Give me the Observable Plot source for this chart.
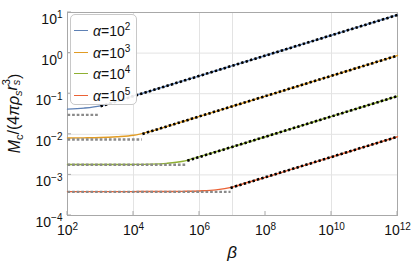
<!DOCTYPE html>
<html>
<head>
<meta charset="utf-8">
<script src="https://cdn.jsdelivr.net/npm/d3@7"></script>
<script src="https://cdn.jsdelivr.net/npm/@observablehq/plot@0.6"></script>
<style>
  html, body { margin: 0; padding: 0; background: #fff; }
  #wrap { position: relative; width: 415px; height: 267px; font-family: "Liberation Sans", Arial, sans-serif; }
  #legend { position: absolute; left: 70px; top: 14px; width: 67px; height: 91px; box-sizing: border-box;
    border: 1px solid #c8c8c8; border-radius: 5px; background: rgba(255,255,255,0.9); }
  .item { position: absolute; left: 0; height: 20px; width: 66px; }
  .item .sw { position: absolute; left: 3px; top: 9px; width: 14px; height: 0; border-top: 1.6px solid; }
  .item .lb { position: absolute; left: 22px; top: 1px; font-size: 14px; line-height: 18px; color: #111; white-space: nowrap; }
  .item .lb sup { font-size: 10px; vertical-align: 0; position: relative; top: -6px; }
</style>
</head>
<body>
<div id="wrap"><div id="chart"></div><div id="legend"></div></div>
<script>
// ---- data (log10 values) ----
const seriesNames = ["α=10^2", "α=10^3", "α=10^4", "α=10^5"];
const seriesColors = ["#5E81B5", "#E19C24", "#8FB032", "#EB6235"];
const betaExp = [2, 2.5, 3, 3.5, 4, 4.5, 5, 5.5, 6, 6.5, 7, 7.5, 8, 9, 10, 11, 12];
const logM_a2 = [-1.38, -1.355, -1.30, -1.18, -1.055, -0.935, -0.81, -0.685, -0.56, -0.435, -0.31, -0.185, -0.06, 0.19, 0.44, 0.69, 0.94];
const logM_a3 = [-2.09, -2.087, -2.08, -2.06, -2.025, -1.93, -1.81, -1.685, -1.56, -1.435, -1.31, -1.185, -1.06, -0.81, -0.56, -0.31, -0.06];
const logM_a4 = [-2.745, -2.745, -2.745, -2.744, -2.742, -2.735, -2.715, -2.665, -2.55, -2.43, -2.31, -2.185, -2.06, -1.81, -1.56, -1.31, -1.06];
const logM_a5 = [-3.412, -3.412, -3.412, -3.412, -3.411, -3.41, -3.41, -3.405, -3.395, -3.37, -3.30, -3.175, -3.06, -2.81, -2.56, -2.31, -2.06];
// large-beta asymptotes (black dotted): [logBeta, logM] endpoints
const asym_a2 = [[3.0, -1.31], [12, 0.94]];
const asym_a3 = [[4.27, -1.99], [12, -0.06]];
const asym_a4 = [[5.63, -2.65], [12, -1.06]];
const asym_a5 = [[6.94, -3.32], [12, -2.06]];
// small-beta plateaus (gray dotted): [logBeta start, logBeta end, logM]
const plat_a2 = [2, 2.94, -1.52];
const plat_a3 = [2, 4.25, -2.128];
const plat_a4 = [2, 5.58, -2.75];
const plat_a5 = [2, 6.94, -3.416];
// ticks
const xTickExp = [2, 4, 6, 8, 10, 12];
const yTickExp = [-4, -3, -2, -1, 0, 1];
const xGridExp = [4, 6, 7, 10];
const yGridExp = [-3, -2, -1, 0];

const p10 = e => Math.pow(10, e);
const curves = [logM_a2, logM_a3, logM_a4, logM_a5].map(arr => betaExp.map((e, i) => ({beta: p10(e), M: p10(arr[i])})));
const asyms = [asym_a2, asym_a3, asym_a4, asym_a5].map(a => a.map(([b, m]) => ({beta: p10(b), M: p10(m)})));
const plats = [plat_a2, plat_a3, plat_a4, plat_a5].map(([b0, b1, m]) => [{beta: p10(b0), M: p10(m)}, {beta: p10(b1), M: p10(m)}]);

const fmtExp = d => { const e = Math.round(Math.log10(d)); return "10^" + (e < 0 ? "\u2212" + (-e) : e); };

const marks = [
  Plot.gridX(xGridExp.map(p10), {stroke: "#e3e3e3", strokeOpacity: 1}),
  Plot.gridY(yGridExp.map(p10), {stroke: "#e3e3e3", strokeOpacity: 1}),
  Plot.frame({stroke: "#a8a8a8"}),
  Plot.axisX(xTickExp.map(p10), {tickSize: 0, tickPadding: 10, tickFormat: fmtExp, label: null, fontSize: 14, fill: "#111"}),
  Plot.axisY(yTickExp.map(p10), {tickSize: 0, tickPadding: 5, tickFormat: fmtExp, label: null, fontSize: 14, fill: "#111"})
];
curves.forEach((c, i) => marks.push(Plot.line(c, {x: "beta", y: "M", stroke: seriesColors[i], strokeWidth: 1.4, curve: "monotone-x"})));
plats.forEach(p => marks.push(Plot.line(p, {x: "beta", y: "M", stroke: "#8a8a8a", strokeWidth: 2.3, strokeDasharray: "2.7,1.9", strokeLinecap: "butt"})));
asyms.forEach(a => marks.push(Plot.line(a, {x: "beta", y: "M", stroke: "#000", strokeWidth: 2.6, strokeDasharray: "2.4,2.2", strokeLinecap: "butt"})));

const W = 415, H = 267, mL = 67, mR = 18, mT = 12, mB = 52;
const plot = Plot.plot({
  width: W, height: H, marginLeft: mL, marginRight: mR, marginTop: mT, marginBottom: mB,
  x: {type: "log", domain: [1e2, 1e12], label: null},
  y: {type: "log", domain: [1e-4, 1e1], label: null},
  style: {fontFamily: "'Liberation Sans', Arial, sans-serif", background: "transparent", fontSize: "14px"},
  marks
});
document.getElementById("chart").appendChild(plot);

const svg = d3.select(plot);
// superscript tick labels
svg.selectAll('g[aria-label="x-axis tick label"] text, g[aria-label="y-axis tick label"] text').each(function() {
  const t = d3.select(this);
  const s = t.text();
  const parts = s.split("^");
  t.text(null);
  t.append("tspan").text(parts[0]);
  t.append("tspan").attr("dy", "-0.55em").attr("font-size", "10px").text(parts[1]);
});
svg.selectAll('g[aria-label="y-axis tick label"] text').attr("dy", "0.5em");

// inside tick marks via the plot's scales
const sx = plot.scale("x"), sy = plot.scale("y");
const tg = svg.append("g").attr("stroke", "#a8a8a8").attr("stroke-width", 1);
xTickExp.forEach(e => { const x = sx.apply(p10(e)); tg.append("line").attr("x1", x).attr("x2", x).attr("y1", H - mB).attr("y2", H - mB - 4); });
yTickExp.forEach(e => { const y = sy.apply(p10(e)); tg.append("line").attr("x1", mL).attr("x2", mL + 4).attr("y1", y).attr("y2", y); });

// axis titles
svg.append("text").attr("x", (mL + W - mR) / 2).attr("y", 258).attr("text-anchor", "middle")
  .attr("font-size", 17).attr("font-style", "italic").attr("fill", "#111").text("β");
const yt = svg.append("text").attr("transform", `translate(20,${(mT + H - mB) / 2}) rotate(-90)`)
  .attr("text-anchor", "middle").attr("font-size", 16).attr("fill", "#111");
yt.append("tspan").attr("font-style", "italic").text("M");
yt.append("tspan").attr("font-size", 11).attr("dy", "0.3em").text("c");
yt.append("tspan").attr("dy", "-0.3em").text("/(4");
yt.append("tspan").attr("font-style", "italic").text("πρ");
yt.append("tspan").attr("font-size", 11).attr("font-style", "italic").attr("dy", "0.3em").text("s");
yt.append("tspan").attr("font-style", "italic").attr("dy", "-0.3em").text("r");
yt.append("tspan").attr("font-size", 11).attr("font-style", "italic").attr("dy", "0.3em").text("s");
yt.append("tspan").attr("font-size", 11).attr("dx", "-0.5em").attr("dy", "-0.9em").text("3");
yt.append("tspan").attr("dy", "0.6em").text(")");

// legend
const lg = document.getElementById("legend");
seriesNames.forEach((n, i) => {
  const [b, e] = n.split("^");
  const it = document.createElement("div");
  it.className = "item";
  it.style.top = (6 + i * 21.5) + "px";
  it.innerHTML = `<div class="sw" style="border-color:${seriesColors[i]}"></div><div class="lb"><i>${b.slice(0,1)}</i>${b.slice(1)}<sup>${e}</sup></div>`;
  lg.appendChild(it);
});
</script>
</body>
</html>
